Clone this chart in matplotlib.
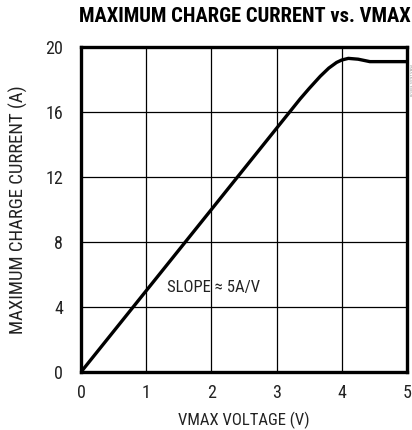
import matplotlib
matplotlib.use("Agg")
import matplotlib.pyplot as plt
from matplotlib import font_manager

names = {f.name for f in font_manager.fontManager.ttflist}
narrow = next((n for n in ("Roboto Condensed", "Archivo Narrow", "PT Sans Narrow", "Liberation Sans")
               if n in names), "DejaVu Sans")

# data
vmax_v = [0.0, 3.2, 3.36, 3.5, 3.67, 3.8, 3.92, 4.0, 4.1, 4.25, 4.43, 4.6, 5.0]
current_a = [0.0, 16.0, 16.8, 17.45, 18.2, 18.7, 19.05, 19.2, 19.3, 19.25, 19.1, 19.1, 19.1]
x_ticks = [0, 1, 2, 3, 4, 5]
y_ticks = [0, 4, 8, 12, 16, 20]

fig = plt.figure(figsize=(4.12, 4.30), dpi=100)
ax = fig.add_axes([81/412, 58/430, 326/412, 325/430])

ax.plot(vmax_v, current_a, color="black", lw=2.4, solid_capstyle="round")
ax.set_xlim(0, 5)
ax.set_ylim(0, 20)
ax.set_xticks(x_ticks)
ax.set_yticks(y_ticks)
ax.grid(True, color="black", lw=0.9)
ax.tick_params(axis="y", length=0, pad=13, labelsize=13)
ax.tick_params(axis="x", length=0, pad=9, labelsize=13)
for lab in ax.get_xticklabels() + ax.get_yticklabels():
    lab.set_family(narrow)
    lab.set_color("#222222")
for s in ax.spines.values():
    s.set_linewidth(2.4)

ax.set_xlabel("VMAX VOLTAGE (V)", family=narrow, fontsize=12, labelpad=7, color="#222222")
ax.set_ylabel("MAXIMUM CHARGE CURRENT (A)", family=narrow, fontsize=13.5, labelpad=12, color="#222222")
ax.text(2.03, 5.2, "SLOPE \u2248 5A/V", family=narrow, fontsize=12, color="#222222",
        ha="center", va="center")

fig.text(411/412, 1 - 16/430, "MAXIMUM CHARGE CURRENT vs. VMAX", family=narrow,
         fontweight="heavy", fontsize=14.8, ha="right", va="center")
fig.text(410/412, 1 - 80/430, "MAX1645 toc08", fontsize=3, color="#999999",
         rotation=270, ha="center", va="center")

fig.savefig("out.png", dpi=100)
